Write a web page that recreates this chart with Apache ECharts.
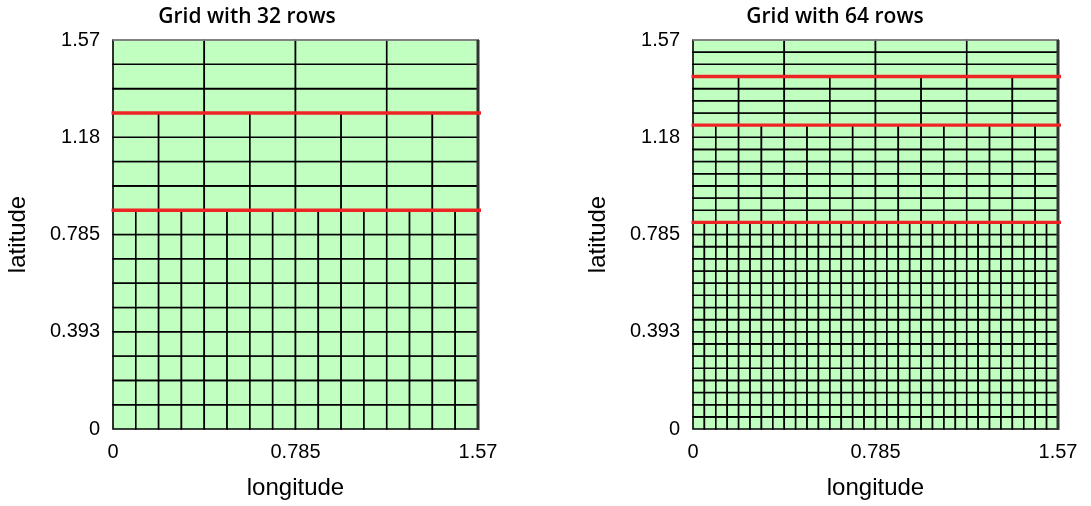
<!DOCTYPE html>
<html>
<head>
<meta charset="utf-8">
<script src="https://cdn.jsdelivr.net/npm/echarts@6/dist/echarts.min.js"></script>
<style>
  html, body { margin: 0; padding: 0; background: #fff; }
  #chart { width: 1091px; height: 506px; }
</style>
</head>
<body>
<div id="chart"></div>
<script>
// Reduced lat-lon grids on one quadrant (0..pi/2 in longitude and latitude).
// Each band lists, from the equator upward, how many rows it holds and
// how many cells one row of the band has across the quadrant.
const HALF_PI = Math.PI / 2;

const titles = ['Grid with 32 rows', 'Grid with 64 rows'];

const bandRows32 = [9, 4, 3];
const bandCols32 = [16, 8, 4];

const bandRows64 = [17, 8, 4, 3];
const bandCols64 = [32, 16, 8, 4];

const lonTickLabels = ['0', '0.785', '1.57'];
const latTickLabels = ['0', '0.393', '0.785', '1.18', '1.57'];

const xName = 'longitude';
const yName = 'latitude';

// Cells as [lon0, lon1, lat0, lat1] plus the latitudes where the column count changes
function buildGrid(rows, cols) {
  const total = rows.reduce((a, b) => a + b, 0);
  const dLat = HALF_PI / total;
  const cells = [];
  const breaks = [];
  let r0 = 0;
  rows.forEach((n, b) => {
    const dLon = HALF_PI / cols[b];
    for (let r = r0; r < r0 + n; r++) {
      for (let c = 0; c < cols[b]; c++) {
        cells.push([c * dLon, (c + 1) * dLon, r * dLat, (r + 1) * dLat]);
      }
    }
    r0 += n;
    if (b < rows.length - 1) breaks.push([r0 * dLat]);
  });
  return { cells, breaks };
}

const grids = [buildGrid(bandRows32, bandCols32), buildGrid(bandRows64, bandCols64)];

const FONT = 'Liberation Sans, Arial, sans-serif';
const gridBoxes = [
  { left: 113, top: 40, width: 365, height: 389 },
  { left: 693, top: 40, width: 365, height: 389 }
];

const option = {
  backgroundColor: '#ffffff',
  animation: false,
  grid: gridBoxes.map(g => Object.assign({ containLabel: false }, g)),
  xAxis: gridBoxes.map((g, i) => ({
    type: 'value', gridIndex: i, min: 0, max: HALF_PI, interval: Math.PI / 4,
    name: xName, nameLocation: 'middle', nameGap: 47,
    nameTextStyle: { fontFamily: FONT, fontSize: 24, color: '#000' },
    axisLine: { show: false }, axisTick: { show: false }, splitLine: { show: false },
    axisLabel: {
      margin: 13, fontFamily: FONT, fontSize: 20, color: '#000',
      showMinLabel: true, showMaxLabel: true,
      formatter: (v) => lonTickLabels[Math.round(v / (Math.PI / 4))]
    }
  })),
  yAxis: gridBoxes.map((g, i) => ({
    type: 'value', gridIndex: i, min: 0, max: HALF_PI, interval: Math.PI / 8,
    name: yName, nameLocation: 'middle', nameGap: 83, nameRotate: 90,
    nameTextStyle: { fontFamily: FONT, fontSize: 24, color: '#000' },
    axisLine: { show: false }, axisTick: { show: false }, splitLine: { show: false },
    axisLabel: {
      margin: 13, fontFamily: FONT, fontSize: 20, color: '#000',
      showMinLabel: true, showMaxLabel: true,
      formatter: (v) => latTickLabels[Math.round(v / (Math.PI / 8))]
    }
  })),
  graphic: titles.map((t, i) => ({
    type: 'text', x: [247, 835][i], y: 17,
    style: { text: t, fontFamily: 'Open Sans, sans-serif', fontSize: 21, fontWeight: 600,
             fill: '#000', textAlign: 'center', textVerticalAlign: 'middle' }
  })),
  series: []
};

grids.forEach((g, i) => {
  // grid cells
  option.series.push({
    type: 'custom', xAxisIndex: i, yAxisIndex: i, z: 2, silent: true,
    data: g.cells,
    renderItem: (params, api) => {
      const p0 = api.coord([api.value(0), api.value(2)]);
      const p1 = api.coord([api.value(1), api.value(3)]);
      return {
        type: 'rect',
        shape: { x: p0[0], y: p1[1], width: p1[0] - p0[0], height: p0[1] - p1[1] },
        style: { fill: '#c1ffc1', stroke: '#000000', lineWidth: 1.6 }
      };
    }
  });
  // frame: light top edge, dark right edge
  option.series.push({
    type: 'custom', xAxisIndex: i, yAxisIndex: i, z: 3, silent: true,
    data: [[0]],
    renderItem: (params, api) => {
      const a = api.coord([0, HALF_PI]);
      const b = api.coord([HALF_PI, 0]);
      return {
        type: 'group', children: [
          { type: 'line', shape: { x1: a[0], y1: a[1], x2: b[0], y2: a[1] },
            style: { stroke: '#9a9a9a', lineWidth: 1.5 } },
          { type: 'line', shape: { x1: b[0], y1: a[1], x2: b[0], y2: b[1] + 1 },
            style: { stroke: '#333333', lineWidth: 3 } }
        ]
      };
    }
  });
  // red lines where the number of cells per row changes
  option.series.push({
    type: 'custom', xAxisIndex: i, yAxisIndex: i, z: 4, silent: true,
    data: g.breaks,
    renderItem: (params, api) => {
      const a = api.coord([0, api.value(0)]);
      const b = api.coord([HALF_PI, api.value(0)]);
      return {
        type: 'line',
        shape: { x1: a[0] - 1.5, y1: a[1], x2: b[0] + 3, y2: b[1] },
        style: { stroke: '#ee2424', lineWidth: 3.4 }
      };
    }
  });
});

const chart = echarts.init(document.getElementById('chart'), null, { renderer: 'canvas' });
chart.setOption(option);
</script>
</body>
</html>
